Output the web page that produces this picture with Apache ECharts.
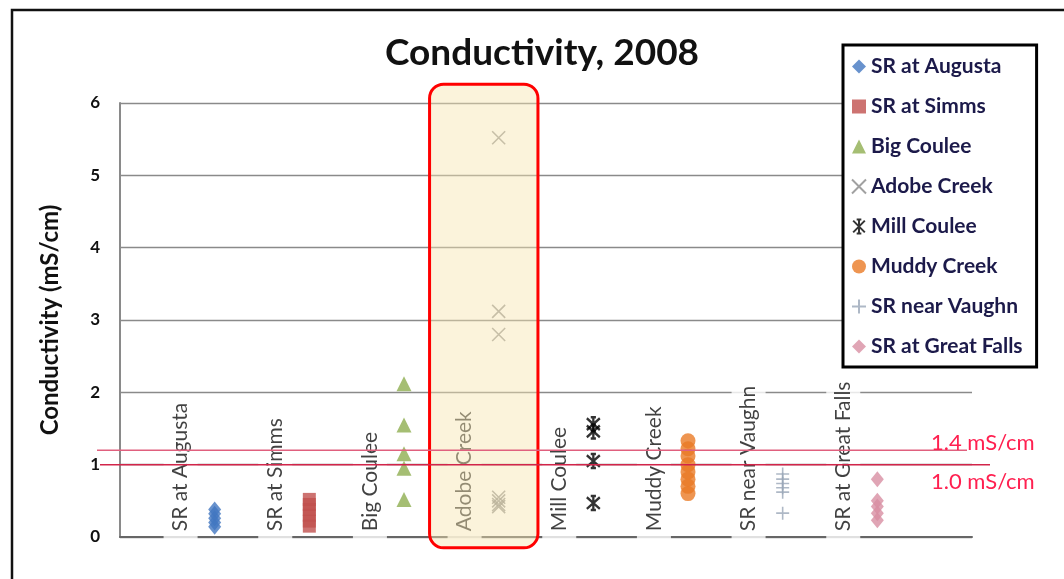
<!DOCTYPE html>
<html><head><meta charset="utf-8">
<script src="https://cdn.jsdelivr.net/npm/echarts@6/dist/echarts.min.js"></script>
<style>html,body{margin:0;padding:0;background:#fff}#c{width:1064px;height:579px}</style>
</head><body><div id="c"></div>
<script>
const sites = ['SR at Augusta','SR at Simms','Big Coulee','Adobe Creek','Mill Coulee','Muddy Creek','SR near Vaughn','SR at Great Falls'];
const augusta = [0.14,0.2,0.26,0.32,0.38];
const simms = [0.15,0.22,0.3,0.38,0.45,0.52];
const bigCoulee = [2.12,1.55,1.15,0.95,0.52];
const adobeCreek = [5.52,3.12,2.8,0.55,0.5,0.45,0.42];
const millCoulee = [1.56,1.46,1.05,0.47];
const muddyCreek = [1.33,1.22,1.12,1.0,0.9,0.8,0.7,0.6];
const vaughn = [0.87,0.8,0.74,0.68,0.62,0.33];
const greatFalls = [0.8,0.5,0.42,0.33,0.23];
const yTicks = [0,1,2,3,4,5,6];
const refValues = [1.2, 1.0];
const refLabels = ['1.4 mS/cm','1.0 mS/cm'];
const highlightSite = 'Adobe Creek';

const values = [augusta, simms, bigCoulee, adobeCreek, millCoulee, muddyCreek, vaughn, greatFalls];
const styles = [
  {symbol:'diamond', symbolSize:[13,16], itemStyle:{color:'#4277c0'}},
  {symbol:'rect', symbolSize:[13,13], itemStyle:{color:'#c0504d'}},
  {symbol:'triangle', symbolSize:[15,15], itemStyle:{color:'#8fae50'}},
  {symbol:'path://M0,0L10,10M10,0L0,10', symbolSize:[13,13], itemStyle:{color:'rgba(0,0,0,0)', borderColor:'#8a8a8a', borderWidth:1.6}},
  {symbol:'path://M0,0L10,10M10,0L0,10M5,-1L5,11M3,-1L7,-1M3,11L7,11', symbolSize:[13,14], itemStyle:{color:'rgba(0,0,0,0)', borderColor:'#000', borderWidth:2.4}},
  {symbol:'circle', symbolSize:[15,15], itemStyle:{color:'#ea7a26'}},
  {symbol:'path://M5,0L5,10M0,5L10,5', symbolSize:[13,13], itemStyle:{color:'rgba(0,0,0,0)', borderColor:'#9aa6b8', borderWidth:1.6}},
  {symbol:'diamond', symbolSize:[13,16], itemStyle:{color:'#d88fa3'}}
];

const chart = echarts.init(document.getElementById('c'));
const series = sites.map((s,i)=>Object.assign({
  type:'scatter', name:s, z:3,
  data: values[i].map(v=>[i+1, v])
}, styles[i]));
series.push({
  type:'scatter', name:'_labels', symbolSize:0, z:2, silent:true, clip:false,
  data: sites.map((s,i)=>({name:s, value:[i+1-0.36, -0.03]})),
  label:{show:true, formatter:'{b}', rotate:90, position:[0,0], align:'left', verticalAlign:'middle',
    fontFamily:'Lato', fontSize:21, color:'#111', backgroundColor:'#fff', padding:[13,0,0,8]}
});

chart.setOption({
  animation:false,
  title:{text:'Conductivity, 2008', left:380, top:30, textStyle:{fontFamily:'Lato', fontWeight:'bold', fontSize:37, color:'#111'}},
  grid:{left:120, right:92, top:103, bottom:42},
  legend:{data:sites, orient:'vertical', left:843, top:45, padding:[11,14,10,8], itemWidth:14, itemHeight:14, itemGap:19,
    backgroundColor:'#fff', borderColor:'#000', borderWidth:3,
    textStyle:{fontFamily:'Lato', fontWeight:'bold', fontSize:21, color:'#1c1a4a'}},
  xAxis:{type:'value', min:0, max:9, axisLine:{show:true, lineStyle:{color:'#666', width:2}}, axisTick:{show:false}, axisLabel:{show:false}, splitLine:{show:false}},
  yAxis:{type:'value', min:yTicks[0], max:yTicks[yTicks.length-1], interval:1,
    name:'Conductivity (mS/cm)', nameLocation:'middle', nameGap:58,
    nameTextStyle:{fontFamily:'Lato', fontWeight:'bold', fontSize:24, color:'#111'},
    axisLine:{show:true, lineStyle:{color:'#8a8a8a', width:2}}, axisTick:{show:false},
    axisLabel:{fontFamily:'Lato', fontWeight:'bold', fontSize:17, color:'#111', margin:20},
    splitLine:{lineStyle:{color:'#8a8a8a', width:1.3}}},
  series: series
});

const hi = sites.indexOf(highlightSite) + 1;
const pA = chart.convertToPixel({gridIndex:0}, [hi-0.73, 6.26]);
const pB = chart.convertToPixel({gridIndex:0}, [hi+0.415, -0.15]);
const yUp = chart.convertToPixel({gridIndex:0}, [0, refValues[0]])[1];
const yLo = chart.convertToPixel({gridIndex:0}, [0, refValues[1]])[1];
chart.setOption({graphic:[
  {type:'rect', z:0, silent:true, shape:{x:12, y:10, width:1200, height:800}, style:{fill:'none', stroke:'#111', lineWidth:2.5}},
  {type:'rect', z:100, silent:true, shape:{x:pA[0], y:pA[1], width:pB[0]-pA[0], height:pB[1]-pA[1], r:14},
    style:{fill:'rgba(247,228,175,0.45)', stroke:'#ff0000', lineWidth:3}},
  {type:'line', z:100, silent:true, shape:{x1:97, y1:yUp, x2:967, y2:yUp}, style:{stroke:'#e0607e', lineWidth:1.5}},
  {type:'line', z:100, silent:true, shape:{x1:100, y1:yLo, x2:990, y2:yLo}, style:{stroke:'#d2254a', lineWidth:1.5}},
  {type:'text', z:100, silent:true, x:931, y:yUp-7, style:{text:refLabels[0], fill:'#ff2050', font:'22px Lato', textVerticalAlign:'middle'}},
  {type:'text', z:100, silent:true, x:931, y:yLo+17, style:{text:refLabels[1], fill:'#ff2050', font:'22px Lato', textVerticalAlign:'middle'}}
]});
</script></body></html>
